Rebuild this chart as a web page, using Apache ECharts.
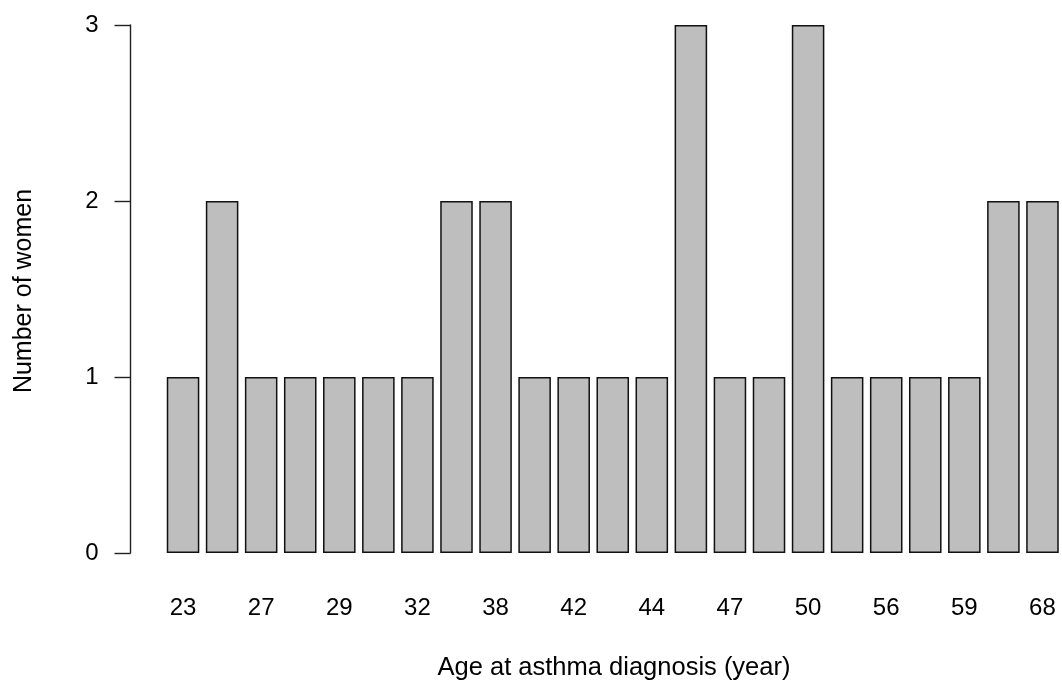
<!DOCTYPE html>
<html>
<head>
<meta charset="utf-8">
<script src="https://cdn.jsdelivr.net/npm/echarts@6/dist/echarts.min.js"></script>
<style>
html,body{margin:0;padding:0;background:#fff;}
#chart{width:1062px;height:682px;}
</style>
</head>
<body>
<div id="chart"></div>
<script>
// Age at asthma diagnosis (every other label is hidden in the reference, as in R's barplot)
var ages = ['23','25','27','28','29','30','32','35','38','40','42','43','44','45','47','48','50','52','56','58','59','62','68'];
var counts = [1,2,1,1,1,1,1,2,2,1,1,1,1,3,1,1,3,1,1,1,1,2,2];
var yTicks = [0,1,2,3];
var xTitle = 'Age at asthma diagnosis (year)';
var yTitle = 'Number of women';

var FONT = '"Liberation Sans", Arial, Helvetica, sans-serif';
var chart = echarts.init(document.getElementById('chart'), null, {renderer:'canvas'});
chart.setOption({
  animation:false,
  backgroundColor:'#ffffff',
  grid:{left:163.5, right:0, top:25, bottom:129, containLabel:false},
  xAxis:{
    type:'category',
    data:ages,
    boundaryGap:true,
    axisLine:{show:false},
    axisTick:{show:false},
    splitLine:{show:false},
    axisLabel:{interval:1, margin:43, color:'#000', fontSize:24, fontFamily:FONT}
  },
  yAxis:{
    type:'value',
    min:yTicks[0], max:yTicks[yTicks.length-1], interval:1,
    offset:33,
    axisLine:{show:true, lineStyle:{color:'#222', width:1.4}},
    axisTick:{show:true, length:16, lineStyle:{color:'#222', width:1.4}},
    splitLine:{show:false},
    axisLabel:{margin:32, color:'#000', fontSize:24, fontFamily:FONT}
  },
  series:[{
    type:'bar',
    data:counts,
    barCategoryGap:'16.67%',
    itemStyle:{color:'#bebebe', borderColor:'#111', borderWidth:1.5}
  }],
  graphic:[
    {type:'text', x:614, y:668, style:{text:xTitle, fill:'#000', font:'25.5px '+FONT, textAlign:'center', textVerticalAlign:'middle'}},
    {type:'text', x:24, y:291, rotation:Math.PI/2, style:{text:yTitle, fill:'#000', font:'25px '+FONT, textAlign:'center', textVerticalAlign:'middle'}}
  ]
});
</script>
</body>
</html>
